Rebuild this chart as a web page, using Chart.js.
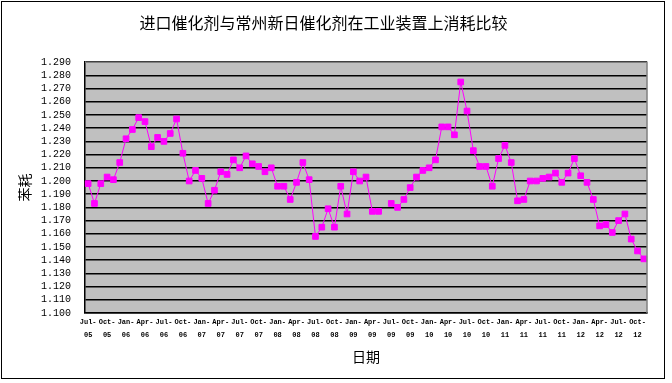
<!DOCTYPE html>
<html>
<head>
<meta charset="utf-8">
<script src="https://cdn.jsdelivr.net/npm/chart.js@4.4.0/dist/chart.umd.min.js"></script>
<style>
  html, body { margin: 0; padding: 0; background: #fff; }
  #wrap { width: 672px; height: 383px; }
</style>
</head>
<body>
<div id="wrap"><canvas id="chart" width="672" height="383"></canvas></div>
<script>
const chartTitle = "进口催化剂与常州新日催化剂在工业装置上消耗比较";
const yTitle = "苯耗";
const xTitle = "日期";

const months = [
  "Jul-05","Aug-05","Sep-05","Oct-05","Nov-05","Dec-05",
  "Jan-06","Feb-06","Mar-06","Apr-06","May-06","Jun-06","Jul-06","Aug-06","Sep-06","Oct-06","Nov-06","Dec-06",
  "Jan-07","Feb-07","Mar-07","Apr-07","May-07","Jun-07","Jul-07","Aug-07","Sep-07","Oct-07","Nov-07","Dec-07",
  "Jan-08","Feb-08","Mar-08","Apr-08","May-08","Jun-08","Jul-08","Aug-08","Sep-08","Oct-08","Nov-08","Dec-08",
  "Jan-09","Feb-09","Mar-09","Apr-09","May-09","Jun-09","Jul-09","Aug-09","Sep-09","Oct-09","Nov-09","Dec-09",
  "Jan-10","Feb-10","Mar-10","Apr-10","May-10","Jun-10","Jul-10","Aug-10","Sep-10","Oct-10","Nov-10","Dec-10",
  "Jan-11","Feb-11","Mar-11","Apr-11","May-11","Jun-11","Jul-11","Aug-11","Sep-11","Oct-11","Nov-11","Dec-11",
  "Jan-12","Feb-12","Mar-12","Apr-12","May-12","Jun-12","Jul-12","Aug-12","Sep-12","Oct-12","Nov-12"
];

// benzene consumption, one value per month (one month missing)
const consumption = [
  1.198, 1.183, 1.198, 1.203, 1.201, 1.214,
  1.232, 1.239, 1.248, 1.245, 1.226, 1.233, 1.230, 1.236, 1.247, 1.221, 1.200, 1.208,
  1.202, 1.183, 1.193, 1.207, 1.205, 1.216, 1.210, 1.219, 1.213, 1.211, 1.207, 1.210,
  1.196, 1.196, 1.186, 1.199, 1.214, 1.201, 1.158, 1.165, 1.179, 1.165, 1.196, 1.175,
  1.207, 1.200, 1.203, 1.177, 1.177, null, 1.183, 1.180, 1.186, 1.195, 1.203, 1.208,
  1.210, 1.216, 1.241, 1.241, 1.235, 1.275, 1.253, 1.223, 1.211, 1.211, 1.196, 1.217,
  1.227, 1.214, 1.185, 1.186, 1.200, 1.200, 1.202, 1.203, 1.206, 1.199, 1.206, 1.217,
  1.204, 1.199, 1.186, 1.166, 1.167, 1.161, 1.170, 1.175, 1.156, 1.147, 1.141
];

const yMin = 1.1;
const yMax = 1.29;
const yStep = 0.01;

const plotBackground = {
  id: "plotBackground",
  beforeDraw(chart) {
    const { ctx, chartArea: a } = chart;
    ctx.save();
    ctx.fillStyle = "#c0c0c0";
    ctx.fillRect(a.left, a.top, a.right - a.left, a.bottom - a.top);
    ctx.restore();
  },
  afterDraw(chart) {
    const { ctx, chartArea: a } = chart;
    ctx.save();
    ctx.strokeStyle = "#808080";
    ctx.lineWidth = 1.5;
    ctx.beginPath();
    ctx.moveTo(a.left, a.top);
    ctx.lineTo(a.right, a.top);
    ctx.lineTo(a.right, a.bottom);
    ctx.stroke();
    // outer frame
    ctx.strokeStyle = "#000";
    ctx.lineWidth = 1;
    ctx.strokeRect(1.5, 1.5, 663, 377);
    ctx.restore();
  },
};

new Chart(document.getElementById("chart"), {
  type: "line",
  data: {
    labels: months,
    datasets: [
      {
        data: consumption,
        borderColor: "#ff00ff",
        backgroundColor: "#ff00ff",
        borderWidth: 1,
        pointStyle: "rect",
        pointRadius: 4,
        pointBorderWidth: 1,
        tension: 0,
        spanGaps: false,
      },
    ],
  },
  options: {
    responsive: false,
    animation: false,
    layout: { padding: { left: 0, right: 25, top: 0, bottom: 0 } },
    plugins: {
      legend: { display: false },
      tooltip: { enabled: false },
      title: {
        display: true,
        text: chartTitle,
        color: "#000",
        font: { family: "'Noto Sans CJK SC'", size: 16, weight: "normal" },
        padding: { top: 13, bottom: 30 },
      },
    },
    scales: {
      x: {
        offset: true,
        afterFit: (scale) => { scale.height = 70; },
        grid: { display: false, drawTicks: false },
        border: { color: "#000", width: 1.5 },
        ticks: {
          autoSkip: false,
          maxRotation: 0,
          minRotation: 0,
          padding: 3,
          color: "#000",
          font: { family: "'Liberation Mono'", size: 7, weight: "bold", lineHeight: 1.85 },
          callback: function (value, index) {
            if (index % 3 !== 0) return null;
            const parts = months[index].split("-");
            return [parts[0] + "-", parts[1]];
          },
        },
        title: {
          display: true,
          text: xTitle,
          color: "#000",
          font: { family: "'Noto Sans CJK SC'", size: 14 },
          padding: { top: 0, bottom: 17.6 },
        },
      },
      y: {
        min: yMin,
        max: yMax,
        afterFit: (scale) => { scale.width = 85; },
        grid: { color: "#000", lineWidth: 1.5, drawTicks: false },
        border: { color: "#000", width: 1.5 },
        ticks: {
          stepSize: yStep,
          autoSkip: false,
          padding: 14,
          color: "#000",
          font: { family: "'Liberation Mono'", size: 10 },
          callback: (v) => Number(v).toFixed(3),
        },
        title: {
          display: true,
          text: yTitle,
          color: "#000",
          font: { family: "'Noto Sans CJK SC'", size: 14 },
          padding: { top: 16.6, bottom: 0 },
        },
      },
    },
  },
  plugins: [plotBackground],
});
</script>
</body>
</html>
